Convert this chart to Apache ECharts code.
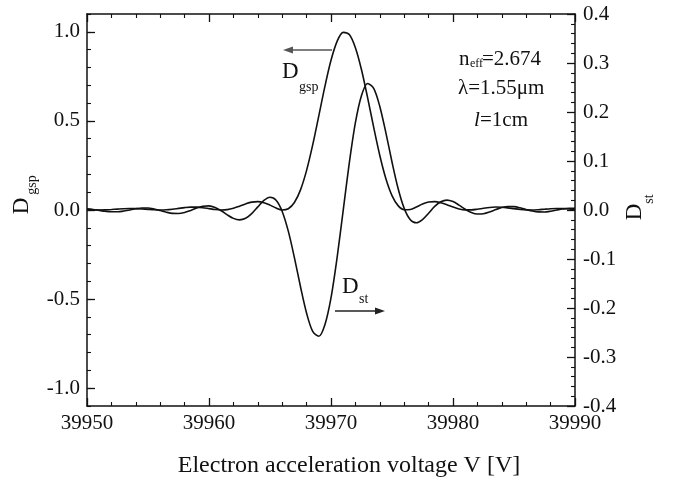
<!DOCTYPE html>
<html>
<head>
<meta charset="utf-8">
<script src="https://cdn.jsdelivr.net/npm/echarts@6/dist/echarts.min.js"></script>
<style>
  html, body { margin: 0; padding: 0; background: #fff; }
  #chart { width: 674px; height: 480px; }
</style>
</head>
<body>
<div id="chart"></div>
<script>
// Electron acceleration voltage samples [V]
const voltage = [
  39950.0, 39950.5, 39951.0, 39951.5, 39952.0, 39952.5, 39953.0, 39953.5, 39954.0, 39954.5,
  39955.0, 39955.5, 39956.0, 39956.5, 39957.0, 39957.5, 39958.0, 39958.5, 39959.0, 39959.5,
  39960.0, 39960.5, 39961.0, 39961.5, 39962.0, 39962.5, 39963.0, 39963.5, 39964.0, 39964.5,
  39965.0, 39965.5, 39966.0, 39966.5, 39967.0, 39967.5, 39968.0, 39968.5, 39969.0, 39969.5,
  39970.0, 39970.5, 39971.0, 39971.5, 39972.0, 39972.5, 39973.0, 39973.5, 39974.0, 39974.5,
  39975.0, 39975.5, 39976.0, 39976.5, 39977.0, 39977.5, 39978.0, 39978.5, 39979.0, 39979.5,
  39980.0, 39980.5, 39981.0, 39981.5, 39982.0, 39982.5, 39983.0, 39983.5, 39984.0, 39984.5,
  39985.0, 39985.5, 39986.0, 39986.5, 39987.0, 39987.5, 39988.0, 39988.5, 39989.0, 39989.5,
  39990.0
];

// D_gsp (left axis)
const dGsp = [
  0.0018, 0.0005, 0.0000, 0.0008, 0.0026, 0.0050, 0.0072, 0.0083, 0.0079, 0.0060,
  0.0034, 0.0010, 0.0000, 0.0011, 0.0044, 0.0089, 0.0134, 0.0162, 0.0160, 0.0129,
  0.0077, 0.0026, 0.0000, 0.0021, 0.0095, 0.0212, 0.0341, 0.0441, 0.0471, 0.0412,
  0.0274, 0.0108, 0.0004, 0.0072, 0.0421, 0.1131, 0.2226, 0.3652, 0.5282, 0.6936,
  0.8400, 0.9464, 0.9970, 0.9845, 0.9107, 0.7870, 0.6307, 0.4634, 0.3062, 0.1755,
  0.0809, 0.0245, 0.0018, 0.0030, 0.0170, 0.0336, 0.0446, 0.0469, 0.0408, 0.0292,
  0.0165, 0.0060, 0.0007, 0.0006, 0.0044, 0.0099, 0.0144, 0.0165, 0.0154, 0.0118,
  0.0072, 0.0029, 0.0004, 0.0002, 0.0018, 0.0045, 0.0069, 0.0082, 0.0080, 0.0065,
  0.0041
];

// D_st (right axis)
const dSt = [
  0.0023, 0.0011, -0.0008, -0.0026, -0.0037, -0.0036, -0.0022, 0.0001, 0.0025, 0.0040,
  0.0040, 0.0021, -0.0010, -0.0044, -0.0069, -0.0072, -0.0050, -0.0008, 0.0040, 0.0077,
  0.0084, 0.0052, -0.0015, -0.0099, -0.0171, -0.0202, -0.0170, -0.0074, 0.0063, 0.0195,
  0.0260, 0.0199, -0.0029, -0.0432, -0.0971, -0.1567, -0.2108, -0.2478, -0.2576, -0.2340,
  -0.1793, -0.0971, -0.0006, 0.0960, 0.1781, 0.2336, 0.2582, 0.2481, 0.2114, 0.1574,
  0.0979, 0.0438, 0.0034, -0.0197, -0.0261, -0.0196, -0.0065, 0.0073, 0.0169, 0.0202,
  0.0172, 0.0100, 0.0016, -0.0051, -0.0083, -0.0077, -0.0041, 0.0008, 0.0050, 0.0072,
  0.0069, 0.0045, 0.0011, -0.0021, -0.0039, -0.0040, -0.0025, -0.0001, 0.0021, 0.0036,
  0.0037
];

// Labelled ticks on the left axis
const leftTicks = [-1.0, -0.5, 0.0, 0.5, 1.0];

const FONT = "'Liberation Serif', 'Times New Roman', serif";
const INK = '#111';

const chart = echarts.init(document.getElementById('chart'), null, { renderer: 'canvas' });

const pairs = (ys) => voltage.map((v, i) => [v, ys[i]]);

const frameLine = { show: true, onZero: false, lineStyle: { color: INK, width: 1.5 } };

// text placed by its visual centre line
function txt(text, x, y, size, opts) {
  opts = opts || {};
  return {
    type: 'text',
    x: x, y: y,
    rotation: opts.rotation || 0,
    style: {
      text: text,
      font: (opts.italic ? 'italic ' : '') + size + 'px ' + FONT,
      fill: opts.fill || INK,
      textAlign: opts.align || 'left',
      textVerticalAlign: 'middle'
    }
  };
}

const xAxisCommon = {
  type: 'value',
  min: 39950, max: 39990, interval: 10,
  axisLine: frameLine,
  axisTick: { inside: true, length: 8, lineStyle: { color: INK, width: 1.3 } },
  minorTick: { show: true, splitNumber: 5, length: 4, lineStyle: { color: INK, width: 1.1 } },
  splitLine: { show: false }
};

const option = {
  backgroundColor: '#fff',
  animation: false,
  grid: { left: 87, right: 99, top: 14, bottom: 74 },
  xAxis: [
    Object.assign({}, xAxisCommon, {
      position: 'bottom',
      axisLabel: { color: INK, fontFamily: FONT, fontSize: 21, margin: 7, formatter: (v) => String(v) }
    }),
    Object.assign({}, xAxisCommon, {
      position: 'top',
      axisLabel: { show: false }
    })
  ],
  yAxis: [
    {
      type: 'value', position: 'left',
      min: -1.1, max: 1.1, interval: 0.1,
      axisLine: frameLine,
      axisTick: { inside: true, length: 4, lineStyle: { color: INK, width: 1.1 } },
      axisLabel: {
        color: INK, fontFamily: FONT, fontSize: 21, margin: 7,
        customValues: leftTicks,
        formatter: (v) => v.toFixed(1)
      },
      splitLine: { show: false }
    },
    {
      type: 'value', position: 'right',
      min: -0.4, max: 0.4, interval: 0.1,
      axisLine: frameLine,
      axisTick: { inside: true, length: 8, lineStyle: { color: INK, width: 1.3 } },
      minorTick: { show: true, splitNumber: 5, length: 4, lineStyle: { color: INK, width: 1.1 } },
      axisLabel: {
        color: INK, fontFamily: FONT, fontSize: 21, margin: 8,
        formatter: (v) => v.toFixed(1)
      },
      splitLine: { show: false }
    },
    {
      // longer ticks at the labelled left-axis values
      type: 'value', position: 'left',
      min: -1.1, max: 1.1,
      axisLine: { show: false, onZero: false },
      axisTick: { inside: true, length: 8, customValues: leftTicks, lineStyle: { color: INK, width: 1.3 } },
      axisLabel: { show: false },
      splitLine: { show: false }
    }
  ],
  series: [
    {
      name: 'Dgsp', type: 'line', xAxisIndex: 0, yAxisIndex: 0,
      data: pairs(dGsp), showSymbol: false, smooth: 0.3,
      lineStyle: { color: INK, width: 1.6 }
    },
    {
      name: 'Dst', type: 'line', xAxisIndex: 0, yAxisIndex: 1,
      data: pairs(dSt), showSymbol: false, smooth: 0.3,
      lineStyle: { color: INK, width: 1.6 }
    }
  ],
  graphic: [
    // axis titles
    txt('Electron acceleration voltage V [V]', 349, 466, 24, { align: 'center' }),
    txt('D', 22, 206, 23, { rotation: Math.PI / 2, align: 'center' }),
    txt('gsp', 32, 185, 14, { rotation: Math.PI / 2, align: 'center' }),
    txt('D', 635, 212, 23, { rotation: Math.PI / 2, align: 'center' }),
    txt('st', 649, 199, 14, { rotation: Math.PI / 2, align: 'center' }),

    // parameters
    txt('n', 459, 59, 21),
    txt('eff', 470, 64, 12),
    txt('=2.674', 482, 59, 21),
    txt('\u03bb=1.55\u03bcm', 458, 88, 21),
    txt('l', 474, 120, 21, { italic: true }),
    txt('=1cm', 480, 120, 21),

    // curve labels
    txt('D', 282, 72, 23),
    txt('gsp', 299, 87, 14),
    txt('D', 342, 287, 23),
    txt('st', 359, 299, 14),

    // arrows
    { type: 'line', shape: { x1: 290, y1: 50, x2: 332, y2: 50 }, style: { stroke: '#555', lineWidth: 1.6 } },
    { type: 'polygon', shape: { points: [[283, 50], [293, 46.5], [293, 53.5]] }, style: { fill: '#555' } },
    { type: 'line', shape: { x1: 335, y1: 311, x2: 378, y2: 311 }, style: { stroke: '#222', lineWidth: 1.4 } },
    { type: 'polygon', shape: { points: [[385, 311], [375, 307.5], [375, 314.5]] }, style: { fill: '#222' } }
  ]
};

chart.setOption(option);
</script>
</body>
</html>
